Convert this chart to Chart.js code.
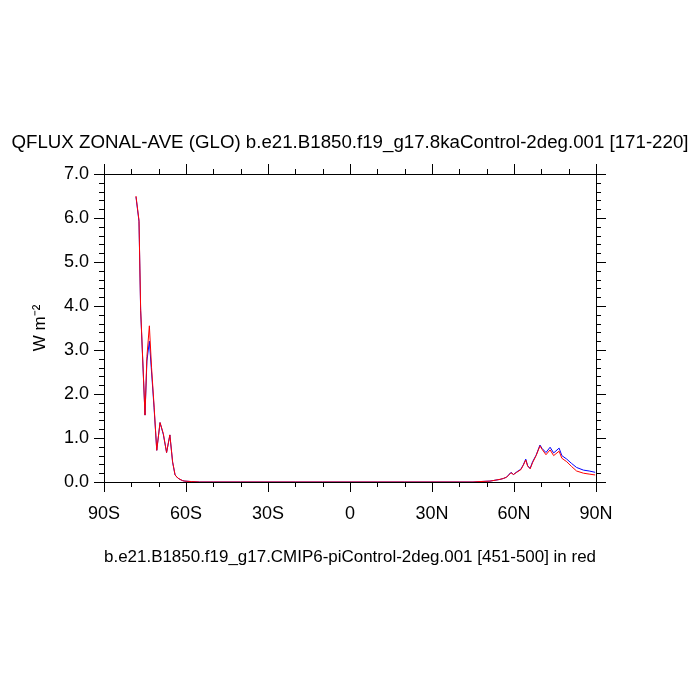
<!DOCTYPE html>
<html>
<head>
<meta charset="utf-8">
<script src="https://cdn.jsdelivr.net/npm/chart.js@4/dist/chart.umd.min.js"></script>
<style>
  body { margin: 0; background: #fff; }
  canvas { display: block; }
</style>
</head>
<body>
<canvas id="qfluxChart" width="700" height="700"></canvas>
<script>
// latitude of each zonal-mean point (degrees, S negative)
const lat = [-78.3, -77.2, -76.6, -75.0, -74.3, -73.4, -72.6, -71.7, -70.7, -69.5,
    -68.3, -67.1, -65.9, -64.9, -64.0, -63.0, -62.2, -61.2, -60.4, -58,
    -55, -50, -40, -30, -20, -10, 0, 10, 20, 30,
    40, 45, 47.6, 51.2, 54.9, 56.1, 57.3, 58.9, 59.8, 61.0,
    62.5, 63.4, 64.3, 65.0, 65.9, 66.8, 68.1, 69.5, 70.3, 71.7,
    73.2, 74.5, 76.5, 77.5, 79.3, 81.1, 82.9, 85.4, 87.5, 89.7];

// CMIP6-piControl [451-500] (red)
const qfluxPiControl = [6.50, 5.95, 3.95, 1.52, 2.85, 3.55, 2.60, 1.75, 0.72, 1.35,
    1.10, 0.67, 1.07, 0.46, 0.16, 0.09, 0.06, 0.03, 0.02, 0.01,
    0, 0, 0, 0, 0, 0, 0, 0, 0, 0,
    0, 0, 0.01, 0.02, 0.06, 0.08, 0.11, 0.21, 0.17, 0.22,
    0.28, 0.38, 0.50, 0.36, 0.30, 0.44, 0.60, 0.82, 0.74, 0.62,
    0.73, 0.60, 0.70, 0.54, 0.46, 0.35, 0.25, 0.20, 0.18, 0.16];

// 8kaControl [171-220] (blue)
const qflux8ka = [6.48, 5.92, 3.90, 1.52, 2.75, 3.20, 2.50, 1.70, 0.72, 1.35,
    1.08, 0.67, 1.07, 0.45, 0.16, 0.09, 0.06, 0.03, 0.02, 0.01,
    0, 0, 0, 0, 0, 0, 0, 0, 0, 0,
    0, 0, 0.01, 0.02, 0.06, 0.08, 0.11, 0.22, 0.17, 0.23,
    0.29, 0.39, 0.52, 0.37, 0.31, 0.46, 0.61, 0.84, 0.76, 0.67,
    0.79, 0.66, 0.77, 0.60, 0.52, 0.42, 0.33, 0.27, 0.25, 0.22];

const titleText = 'QFLUX ZONAL-AVE (GLO) b.e21.B1850.f19_g17.8kaControl-2deg.001 [171-220]';
const captionText = 'b.e21.B1850.f19_g17.CMIP6-piControl-2deg.001 [451-500] in red';
const yLabel = 'W m\u207B\u00B2';

Chart.defaults.font.family = '"Liberation Sans", Arial, Helvetica, sans-serif';
Chart.defaults.color = '#000';

function latLabel(v) {
    if (v < 0) return (-v) + 'S';
    if (v > 0) return v + 'N';
    return '0';
}

// small outward ticks between the labelled ones, on all four sides
const minorTicks = {
    id: 'minorTicks',
    afterDraw(chart) {
        const { ctx, chartArea: a, scales: { x, y } } = chart;
        ctx.save();
        ctx.strokeStyle = '#000';
        ctx.lineWidth = 1;
        ctx.beginPath();
        for (let v = -90; v <= 90; v += 10) {
            if (v % 30 === 0) continue;
            const px = Math.round(x.getPixelForValue(v)) + 0.5;
            ctx.moveTo(px, a.bottom); ctx.lineTo(px, a.bottom + 5);
            ctx.moveTo(px, a.top); ctx.lineTo(px, a.top - 5);
        }
        for (let i = 0; i <= 35; i++) {
            if (i % 5 === 0) continue;
            const py = Math.round(y.getPixelForValue(i * 0.2)) + 0.5;
            ctx.moveTo(a.left, py); ctx.lineTo(a.left - 5, py);
            ctx.moveTo(a.right, py); ctx.lineTo(a.right + 5, py);
        }
        ctx.stroke();
        ctx.restore();
    }
};

function toPoints(values) {
    return lat.map((la, i) => ({ x: la, y: values[i] }));
}

const frameGrid = { drawOnChartArea: false, tickLength: 10, color: '#000', lineWidth: 1 };
const frameBorder = { display: true, color: '#000', width: 1 };

new Chart(document.getElementById('qfluxChart'), {
    type: 'line',
    data: {
        datasets: [{
            label: 'piControl',
            data: toPoints(qfluxPiControl),
            borderColor: '#ff0000',
            borderWidth: 1,
            pointRadius: 0,
            tension: 0
        }, {
            label: '8kaControl',
            data: toPoints(qflux8ka),
            borderColor: '#0000ff',
            borderWidth: 1,
            pointRadius: 0,
            tension: 0
        }]
    },
    options: {
        responsive: false,
        animation: false,
        devicePixelRatio: 1,
        layout: { padding: 0 },
        scales: {
            x: {
                type: 'linear',
                position: 'bottom',
                min: -90,
                max: 90,
                ticks: { stepSize: 30, font: { size: 18 }, padding: 11, maxRotation: 0, callback: latLabel },
                grid: frameGrid,
                border: frameBorder,
                title: { display: true, text: captionText, font: { size: 17 }, padding: { top: 0, bottom: 132.8 } },
                afterFit(scale) { scale.height = 218; }
            },
            xTop: {
                type: 'linear',
                position: 'top',
                min: -90,
                max: 90,
                ticks: { stepSize: 30, display: false },
                grid: frameGrid,
                border: frameBorder,
                afterFit(scale) { scale.height = 19.56; }
            },
            y: {
                position: 'left',
                min: 0,
                max: 7,
                ticks: { stepSize: 1, font: { size: 18 }, padding: 5, callback: v => v.toFixed(1) },
                grid: frameGrid,
                border: frameBorder,
                title: { display: true, text: yLabel, font: { size: 17 }, padding: { top: 30, bottom: 0 } },
                afterFit(scale) { scale.width = 104; }
            },
            yRight: {
                position: 'right',
                min: 0,
                max: 7,
                ticks: { stepSize: 1, display: false },
                grid: frameGrid,
                border: frameBorder,
                afterFit(scale) { scale.width = 104; }
            }
        },
        plugins: {
            legend: { display: false },
            tooltip: { enabled: false },
            title: {
                display: true,
                text: titleText,
                font: { size: 18.7, weight: 'normal', lineHeight: 1.2 },
                color: '#000',
                padding: { top: 132, bottom: 0 }
            }
        }
    },
    plugins: [minorTicks]
});
</script>
</body>
</html>
